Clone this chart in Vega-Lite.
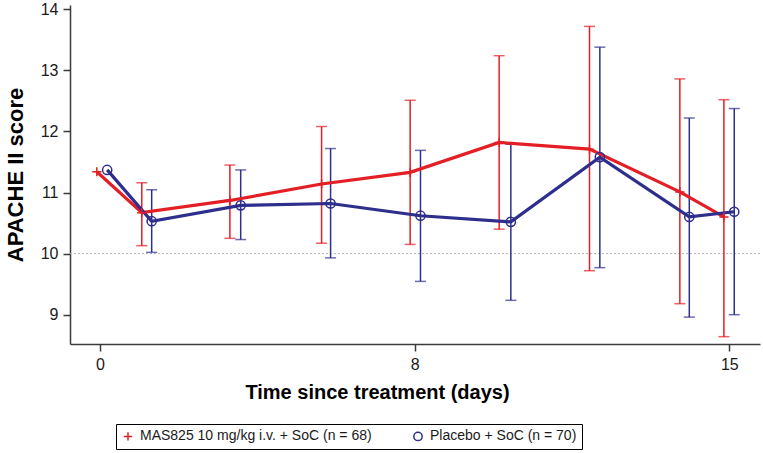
{
  "$schema": "https://vega.github.io/schema/vega-lite/v6.json",
  "width": 690,
  "height": 339,
  "autosize": {"type": "none"},
  "padding": {"left": 70, "top": 5, "right": 3, "bottom": 109},
  "background": "white",
  "config": {
    "font": "Liberation Sans",
    "view": {"stroke": null},
    "axis": {
      "domainColor": "#3a3a3a",
      "domainWidth": 1.5,
      "tickColor": "#3a3a3a",
      "tickWidth": 1.5,
      "tickSize": 7,
      "labelFontSize": 16,
      "labelColor": "#1a1a1a",
      "labelFont": "Liberation Sans",
      "titleFont": "Liberation Sans",
      "titleFontSize": 20,
      "titleFontWeight": "bold",
      "titleColor": "#000000",
      "grid": false
    },
    "legend": {
      "labelFont": "Liberation Sans",
      "labelFontSize": 14,
      "labelColor": "#1a1a1a",
      "labelLimit": 400
    }
  },
  "datasets": {
    "scores": [
      {"group": "MAS825 10 mg/kg i.v. + SoC (n = 68)", "day": 0.93, "mean": 11.34, "lo": null, "hi": null},
      {"group": "MAS825 10 mg/kg i.v. + SoC (n = 68)", "day": 1.93, "mean": 10.67, "lo": 10.13, "hi": 11.16},
      {"group": "MAS825 10 mg/kg i.v. + SoC (n = 68)", "day": 3.89, "mean": 10.87, "lo": 10.25, "hi": 11.45},
      {"group": "MAS825 10 mg/kg i.v. + SoC (n = 68)", "day": 5.93, "mean": 11.14, "lo": 10.17, "hi": 12.08},
      {"group": "MAS825 10 mg/kg i.v. + SoC (n = 68)", "day": 7.90, "mean": 11.33, "lo": 10.15, "hi": 12.51},
      {"group": "MAS825 10 mg/kg i.v. + SoC (n = 68)", "day": 9.88, "mean": 11.82, "lo": 10.40, "hi": 13.24},
      {"group": "MAS825 10 mg/kg i.v. + SoC (n = 68)", "day": 11.89, "mean": 11.71, "lo": 9.72, "hi": 13.72},
      {"group": "MAS825 10 mg/kg i.v. + SoC (n = 68)", "day": 13.90, "mean": 11.01, "lo": 9.18, "hi": 12.86},
      {"group": "MAS825 10 mg/kg i.v. + SoC (n = 68)", "day": 14.88, "mean": 10.60, "lo": 8.64, "hi": 12.52},
      {"group": "Placebo + SoC (n = 70)", "day": 1.16, "mean": 11.37, "lo": null, "hi": null},
      {"group": "Placebo + SoC (n = 70)", "day": 2.15, "mean": 10.53, "lo": 10.02, "hi": 11.045},
      {"group": "Placebo + SoC (n = 70)", "day": 4.13, "mean": 10.79, "lo": 10.23, "hi": 11.37},
      {"group": "Placebo + SoC (n = 70)", "day": 6.13, "mean": 10.82, "lo": 9.93, "hi": 11.72},
      {"group": "Placebo + SoC (n = 70)", "day": 8.13, "mean": 10.62, "lo": 9.545, "hi": 11.69},
      {"group": "Placebo + SoC (n = 70)", "day": 10.14, "mean": 10.52, "lo": 9.235, "hi": 11.79},
      {"group": "Placebo + SoC (n = 70)", "day": 12.12, "mean": 11.58, "lo": 9.77, "hi": 13.38},
      {"group": "Placebo + SoC (n = 70)", "day": 14.11, "mean": 10.60, "lo": 8.96, "hi": 12.22},
      {"group": "Placebo + SoC (n = 70)", "day": 15.11, "mean": 10.685, "lo": 9.0, "hi": 12.375}
    ],
    "reference": [{"ref": 10}]
  },
  "data": {"name": "scores"},
  "layer": [
    {
      "data": {"name": "reference"},
      "mark": {"type": "rule", "color": "#b5b5b5", "strokeWidth": 1, "strokeDash": [2, 2]},
      "encoding": {
        "y": {
          "field": "ref",
          "type": "quantitative",
          "scale": {"domain": [8.52, 14.07], "zero": false, "nice": false},
          "axis": {
            "values": [9, 10, 11, 12, 13, 14],
            "format": "d",
            "labelFontSize": 16,
            "title": "APACHE II score",
            "titleFontSize": 22,
            "labelPadding": 5,
            "titleX": -48,
            "titleBaseline": "alphabetic"
          }
        }
      }
    },
    {
      "transform": [{"filter": "isValid(datum.lo)"}],
      "mark": {"type": "rule", "strokeWidth": 1.5},
      "encoding": {
        "x": {"field": "day", "type": "quantitative"},
        "y": {"field": "lo", "type": "quantitative"},
        "y2": {"field": "hi"},
        "detail": {"field": "group"},
        "color": {"condition": {"test": "datum.group == 'Placebo + SoC (n = 70)'", "value": "#2e2e8c"}, "value": "#e31e24"}
      }
    },
    {
      "transform": [
        {"filter": "isValid(datum.lo)"},
        {"fold": ["lo", "hi"], "as": ["end", "cap"]}
      ],
      "mark": {"type": "tick", "orient": "horizontal", "size": 11, "thickness": 1.5},
      "encoding": {
        "x": {"field": "day", "type": "quantitative"},
        "y": {"field": "cap", "type": "quantitative"},
        "color": {"condition": {"test": "datum.group == 'Placebo + SoC (n = 70)'", "value": "#2e2e8c"}, "value": "#e31e24"}
      }
    },
    {
      "mark": {"type": "line", "strokeWidth": 3.2},
      "encoding": {
        "x": {"field": "day", "type": "quantitative"},
        "y": {"field": "mean", "type": "quantitative"},
        "detail": {"field": "group"},
        "color": {"condition": {"test": "datum.group == 'Placebo + SoC (n = 70)'", "value": "#2e2e8c"}, "value": "#e31e24"}
      }
    },
    {
      "mark": {"type": "point", "filled": false, "strokeWidth": 1.5, "size": 85, "opacity": 1},
      "encoding": {
        "x": {
          "field": "day",
          "type": "quantitative",
          "scale": {"domain": [0.333, 15.683], "zero": false, "nice": false},
          "axis": {
            "values": [1, 8, 15],
            "labelExpr": "datum.value == 1 ? '0' : datum.label",
            "labelFontSize": 16,
            "title": "Time since treatment (days)",
            "labelPadding": 5,
            "titleX": 307,
            "titleY": 38,
            "titleBaseline": "top"
          }
        },
        "y": {"field": "mean", "type": "quantitative"},
        "color": {
          "field": "group",
          "type": "nominal",
          "scale": {"range": ["#e31e24", "#2e2e8c"]},
          "legend": {
            "title": null,
            "orient": "none",
            "legendX": 46,
            "legendY": 419,
            "direction": "horizontal",
            "columns": 2,
            "columnPadding": 38,
            "padding": 5,
            "strokeColor": "#000000",
            "symbolSize": 70,
            "symbolStrokeWidth": 1.5,
            "labelOffset": 5
          }
        },
        "shape": {
          "field": "group",
          "type": "nominal",
          "scale": {"range": ["M-1,0H1M0,-1V1", "circle"]},
          "legend": {
            "title": null,
            "orient": "none",
            "legendX": 46,
            "legendY": 419,
            "direction": "horizontal",
            "columns": 2,
            "columnPadding": 38,
            "padding": 5,
            "strokeColor": "#000000",
            "symbolSize": 70,
            "symbolStrokeWidth": 1.5,
            "labelOffset": 5
          }
        }
      }
    }
  ]
}
